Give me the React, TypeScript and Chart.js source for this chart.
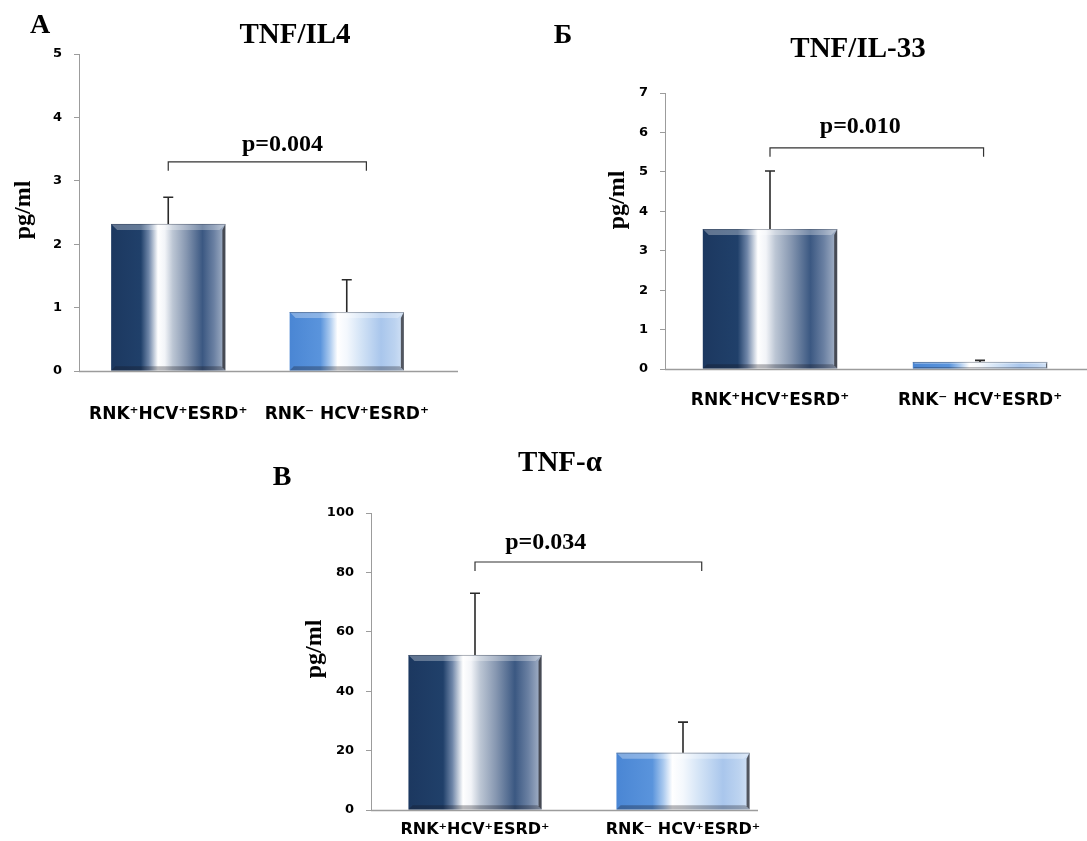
import React, { useEffect, useRef } from "react";
import { Chart, registerables } from "chart.js";

Chart.register(...registerables);

// ---------- data ----------
const categories = ["RNK⁺HCV⁺ESRD⁺", "RNK⁻ HCV⁺ESRD⁺"];

const tnfIl4Values = [2.32, 0.93];
const tnfIl4ErrorsUp = [0.42, 0.51];

const tnfIl33Values = [3.55, 0.18];
const tnfIl33ErrorsUp = [1.47, 0.04];

const tnfAlphaValues = [52.2, 19.3];
const tnfAlphaErrorsUp = [20.8, 10.3];

const panelTitles = ["TNF/IL4", "TNF/IL-33", "TNF-α"];
const panelLetters = ["А", "Б", "В"];
const pLabels = ["p=0.004", "p=0.010", "p=0.034"];
const bracketLevels = [3.3, 5.61, 83.5];
const pTextLevels = [3.56, 6.14, 89.9];
const yMaxima = [5, 7, 100];
const yStepSizes = [1, 1, 20];
const yAxisLabel = "pg/ml";

// ---------- styles ----------
const darkStops: [number, string][] = [
  [0, "#1c3860"],
  [0.26, "#20406a"],
  [0.33, "#6f86a8"],
  [0.41, "#ffffff"],
  [0.47, "#f2f4f8"],
  [0.54, "#bcc6d4"],
  [0.66, "#8596b0"],
  [0.8, "#3b5882"],
  [0.9, "#6a80a2"],
  [1, "#a9b6ca"],
];
const lightStops: [number, string][] = [
  [0, "#4a86d4"],
  [0.27, "#5a94dc"],
  [0.35, "#a8c8ee"],
  [0.42, "#ffffff"],
  [0.5, "#f4f8fd"],
  [0.62, "#d4e4f6"],
  [0.8, "#a9c6ec"],
  [0.92, "#bcd3f0"],
  [1, "#d2e2f6"],
];
const barStops = [darkStops, lightStops];
const BAR_PCT = 0.64;
const AXIS_COLOR = "#9c9c9c";
const SERIF = "'Liberation Serif', 'DejaVu Serif', serif";
const SANS = "'DejaVu Sans', 'Liberation Sans', sans-serif";

type PanelCfg = {
  idx: number;
  values: number[];
  errors: number[];
  canvas: { left: number; top: number; w: number; h: number };
  area: { left: number; top: number; right: number; bottom: number };
  title: { x: number; y: number };
  letter: { x: number; y: number };
  yLabel: { x: number; y: number };
  labelPad: number;
  labelSize: number;
  axisRight: number;
  bracketRightOffset: number;
  pTextX: number;
};

const panels: PanelCfg[] = [
  {
    idx: 0,
    values: tnfIl4Values,
    errors: tnfIl4ErrorsUp,
    canvas: { left: 0, top: 0, w: 540, h: 430 },
    area: { left: 79, top: 54, right: 436, bottom: 371 },
    title: { x: 295, y: 36 },
    letter: { x: 40, y: 26 },
    yLabel: { x: 24, y: 210 },
    labelPad: 33,
    labelSize: 17,
    axisRight: 458,
    bracketRightOffset: 0.11,
    pTextX: 0.64,
  },
  {
    idx: 1,
    values: tnfIl33Values,
    errors: tnfIl33ErrorsUp,
    canvas: { left: 540, top: 0, w: 547, h: 430 },
    area: { left: 125, top: 93, right: 545, bottom: 369 },
    title: { x: 318, y: 50 },
    letter: { x: 23, y: 36 },
    yLabel: { x: 78, y: 200 },
    labelPad: 21,
    labelSize: 17,
    axisRight: 547,
    bracketRightOffset: 0.017,
    pTextX: 0.43,
  },
  {
    idx: 2,
    values: tnfAlphaValues,
    errors: tnfAlphaErrorsUp,
    canvas: { left: 0, top: 430, w: 1087, h: 411 },
    area: { left: 371, top: 83, right: 787, bottom: 380 },
    title: { x: 560, y: 34 },
    letter: { x: 282, y: 48 },
    yLabel: { x: 315, y: 219 },
    labelPad: 10,
    labelSize: 16,
    axisRight: 758,
    bracketRightOffset: 0.09,
    pTextX: 0.34,
  },
];

function makeDecorPlugin(cfg: PanelCfg) {
  return {
    id: "decor" + cfg.idx,
    beforeDatasetsDraw(chart: any) {
      const ctx = chart.ctx as CanvasRenderingContext2D;
      const ca = chart.chartArea;
      ctx.save();
      ctx.strokeStyle = AXIS_COLOR;
      ctx.lineWidth = 1.5;
      ctx.beginPath();
      ctx.moveTo(ca.left, ca.bottom + 0.5);
      ctx.lineTo(cfg.axisRight, ca.bottom + 0.5);
      ctx.stroke();
      ctx.restore();
    },
    afterDatasetsDraw(chart: any) {
      const ctx = chart.ctx as CanvasRenderingContext2D;
      const xs = chart.scales.x;
      const ys = chart.scales.y;
      const meta = chart.getDatasetMeta(0);
      ctx.save();
      // bevels
      meta.data.forEach((bar: any) => {
        const left = bar.x - bar.width / 2;
        const right = bar.x + bar.width / 2;
        const top = bar.y;
        const bottom = bar.base;
        const h = bottom - top;
        const b = Math.min(6, h / 3);
        ctx.fillStyle = "rgba(255,255,255,0.3)";
        ctx.beginPath();
        ctx.moveTo(left, top);
        ctx.lineTo(right, top);
        ctx.lineTo(right - b, top + b);
        ctx.lineTo(left + b, top + b);
        ctx.closePath();
        ctx.fill();
        ctx.strokeStyle = "rgba(30,40,60,0.35)";
        ctx.lineWidth = 1;
        ctx.beginPath();
        ctx.moveTo(left, top + 0.5);
        ctx.lineTo(right, top + 0.5);
        ctx.stroke();
        ctx.fillStyle = "rgba(40,40,45,0.75)";
        ctx.beginPath();
        ctx.moveTo(right, top);
        ctx.lineTo(right, bottom);
        ctx.lineTo(right - b * 0.5, bottom - b * 0.5);
        ctx.lineTo(right - b * 0.5, top + b);
        ctx.closePath();
        ctx.fill();
        ctx.fillStyle = "rgba(20,20,30,0.3)";
        ctx.beginPath();
        ctx.moveTo(left, bottom);
        ctx.lineTo(right, bottom);
        ctx.lineTo(right - b * 0.7, bottom - b * 0.7);
        ctx.lineTo(left + b * 0.7, bottom - b * 0.7);
        ctx.closePath();
        ctx.fill();
      });
      // error bars (upper only)
      ctx.strokeStyle = "#2a2a2a";
      ctx.lineWidth = 1.6;
      cfg.values.forEach((v, i) => {
        const x = xs.getPixelForValue(i);
        const y0 = ys.getPixelForValue(v);
        const y1 = ys.getPixelForValue(v + cfg.errors[i]);
        ctx.beginPath();
        ctx.moveTo(x, y0);
        ctx.lineTo(x, y1);
        ctx.moveTo(x - 5, y1);
        ctx.lineTo(x + 5, y1);
        ctx.stroke();
      });
      // bracket
      const catW = xs.width / categories.length;
      const bx1 = xs.getPixelForValue(0);
      const bx2 = xs.getPixelForValue(1) + cfg.bracketRightOffset * catW;
      const by = ys.getPixelForValue(bracketLevels[cfg.idx]);
      ctx.strokeStyle = "#333";
      ctx.lineWidth = 1.2;
      ctx.beginPath();
      ctx.moveTo(bx1, by + 9);
      ctx.lineTo(bx1, by);
      ctx.lineTo(bx2, by);
      ctx.lineTo(bx2, by + 9);
      ctx.stroke();
      // p text
      ctx.fillStyle = "#000";
      ctx.font = `bold 24px ${SERIF}`;
      ctx.textAlign = "center";
      ctx.textBaseline = "middle";
      ctx.fillText(
        pLabels[cfg.idx],
        bx1 + cfg.pTextX * catW,
        ys.getPixelForValue(pTextLevels[cfg.idx])
      );
      // title
      ctx.font = `bold 29px ${SERIF}`;
      ctx.fillText(panelTitles[cfg.idx], cfg.title.x, cfg.title.y);
      // letter
      ctx.font = `bold 28px ${SERIF}`;
      ctx.fillText(panelLetters[cfg.idx], cfg.letter.x, cfg.letter.y);
      // y label
      ctx.save();
      ctx.translate(cfg.yLabel.x, cfg.yLabel.y);
      ctx.rotate(-Math.PI / 2);
      ctx.font = `bold 24px ${SERIF}`;
      ctx.fillText(yAxisLabel, 0, 0);
      ctx.restore();
      ctx.restore();
    },
  };
}

function Panel({ cfg }: { cfg: PanelCfg }) {
  const ref = useRef<HTMLCanvasElement | null>(null);
  useEffect(() => {
    if (!ref.current) return;
    const xH = cfg.canvas.h - cfg.area.bottom;
    const chart = new Chart(ref.current, {
      type: "bar",
      data: {
        labels: categories,
        datasets: [
          {
            data: cfg.values,
            barPercentage: BAR_PCT,
            categoryPercentage: 1,
            borderWidth: 0,
            backgroundColor: (c: any) => {
              const ch = c.chart;
              const stops = barStops[c.dataIndex] || darkStops;
              if (!ch.chartArea || c.dataIndex === undefined) return stops[0][1];
              const xs = ch.scales.x;
              const center = xs.getPixelForValue(c.dataIndex);
              const w = (xs.width / categories.length) * BAR_PCT;
              const g = ch.ctx.createLinearGradient(center - w / 2, 0, center + w / 2, 0);
              stops.forEach(([o, col]) => g.addColorStop(o, col));
              return g;
            },
          },
        ],
      },
      options: {
        responsive: false,
        maintainAspectRatio: false,
        animation: false,
        layout: {
          padding: {
            left: 0,
            top: cfg.area.top,
            right: cfg.canvas.w - cfg.area.right,
            bottom: 0,
          },
        },
        plugins: {
          legend: { display: false },
          tooltip: { enabled: false },
          title: { display: false },
        },
        scales: {
          x: {
            type: "category",
            offset: true,
            grid: { display: false, drawTicks: false },
            border: { display: false },
            ticks: {
              padding: cfg.labelPad,
              color: "#000",
              maxRotation: 0,
              autoSkip: false,
              font: { family: SANS, size: cfg.labelSize, weight: "bold" },
            },
            afterFit: (s: any) => {
              s.height = xH;
            },
          },
          y: {
            min: 0,
            max: yMaxima[cfg.idx],
            ticks: {
              stepSize: yStepSizes[cfg.idx],
              padding: 12,
              color: "#000",
              font: { family: SANS, size: 13, weight: "bold" },
            },
            grid: {
              drawOnChartArea: false,
              tickLength: 5,
              color: AXIS_COLOR,
            },
            border: { color: AXIS_COLOR, width: 1 },
            afterFit: (s: any) => {
              s.width = cfg.area.left;
            },
          },
        },
      } as any,
      plugins: [makeDecorPlugin(cfg)],
    });
    return () => chart.destroy();
  }, [cfg]);
  return (
    <canvas
      ref={ref}
      width={cfg.canvas.w}
      height={cfg.canvas.h}
      style={{
        position: "absolute",
        left: cfg.canvas.left,
        top: cfg.canvas.top,
        width: cfg.canvas.w,
        height: cfg.canvas.h,
      }}
    />
  );
}

export default function App() {
  return (
    <div
      style={{
        position: "absolute",
        left: 0,
        top: 0,
        width: 1087,
        height: 841,
        background: "#fff",
        overflow: "hidden",
      }}
    >
      {panels.map((p) => (
        <Panel key={p.idx} cfg={p} />
      ))}
    </div>
  );
}
